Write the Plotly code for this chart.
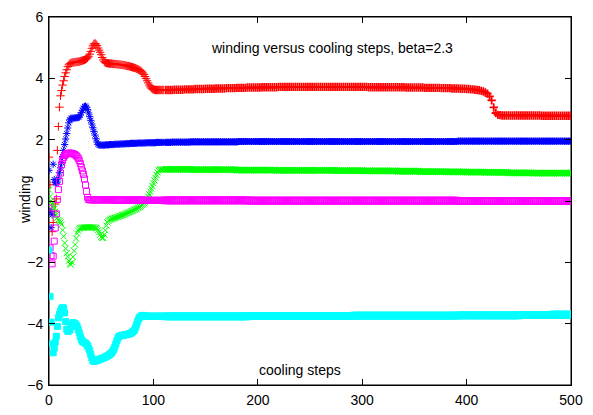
import plotly.graph_objects as go

# cooling step at which each value was read: every step up to 110, every other step after
steps = list(range(0, 111)) + list(range(112, 501, 2))

red_winding = [
    1.43, 0.53, -0.34, -1.0, -0.7, -0.35, -0.1, 0.07, 1.65, 2.43,
    3.06, 3.43, 3.6, 3.78, 3.92, 4.06, 4.18, 4.28, 4.38, 4.44,
    4.48, 4.5, 4.51, 4.52, 4.52, 4.53, 4.53, 4.54, 4.54, 4.55,
    4.56, 4.57, 4.58, 4.59, 4.6, 4.62, 4.64, 4.67, 4.72, 4.79,
    4.88, 4.98, 5.06, 5.12, 5.14, 5.12, 5.07, 4.99, 4.92, 4.85,
    4.77, 4.68, 4.6, 4.54, 4.51, 4.5, 4.49, 4.49, 4.48, 4.48,
    4.48, 4.47, 4.47, 4.47, 4.46, 4.46, 4.46, 4.45, 4.45, 4.44,
    4.44, 4.43, 4.43, 4.42, 4.41, 4.4, 4.4, 4.39, 4.38, 4.37,
    4.36, 4.35, 4.34, 4.33, 4.31, 4.3, 4.28, 4.26, 4.24, 4.21,
    4.17, 4.12, 4.06, 3.99, 3.92, 3.85, 3.78, 3.72, 3.68, 3.65,
    3.64, 3.63, 3.62, 3.62, 3.62, 3.62, 3.62, 3.62, 3.62, 3.62, 3.62,
    # step 112 onwards
    3.62, 3.62, 3.62, 3.62, 3.63, 3.63, 3.63, 3.63, 3.63, 3.64,
    3.64, 3.64, 3.64, 3.64, 3.65, 3.65, 3.65, 3.65, 3.65, 3.66,
    3.66, 3.66, 3.66, 3.66, 3.67, 3.67, 3.67, 3.67, 3.67, 3.68,
    3.68, 3.68, 3.68, 3.68, 3.69, 3.69, 3.69, 3.69, 3.69, 3.7,
    3.7, 3.7, 3.7, 3.7, 3.7, 3.7, 3.71, 3.71, 3.71, 3.71,
    3.71, 3.71, 3.71, 3.71, 3.72, 3.72, 3.72, 3.72, 3.72, 3.72,
    3.72, 3.72, 3.72, 3.72, 3.72, 3.72, 3.72, 3.72, 3.72, 3.72,
    3.72, 3.72, 3.72, 3.72, 3.72, 3.72, 3.72, 3.72, 3.72, 3.72,
    3.72, 3.72, 3.72, 3.72, 3.72, 3.72, 3.72, 3.72, 3.72, 3.72,
    3.72, 3.72, 3.72, 3.72, 3.72, 3.72, 3.72, 3.71, 3.71, 3.71,
    3.71, 3.71, 3.71, 3.71, 3.71, 3.71, 3.71, 3.71, 3.71, 3.71,
    3.71, 3.71, 3.71, 3.71, 3.71, 3.7, 3.7, 3.7, 3.7, 3.7,
    3.7, 3.7, 3.7, 3.7, 3.69, 3.69, 3.69, 3.69, 3.69, 3.69,
    3.69, 3.69, 3.68, 3.68, 3.68, 3.68, 3.68, 3.67, 3.67, 3.67,
    3.67, 3.66, 3.66, 3.66, 3.65, 3.65, 3.64, 3.64, 3.63, 3.62,
    3.61, 3.59, 3.57, 3.54, 3.5, 3.41, 3.28, 3.05, 2.87, 2.81,
    2.8, 2.79, 2.79, 2.79, 2.79, 2.79, 2.79, 2.79, 2.79, 2.79,
    2.79, 2.79, 2.79, 2.79, 2.79, 2.79, 2.79, 2.79, 2.79, 2.79,
    2.78, 2.78, 2.78, 2.78, 2.78, 2.78, 2.78, 2.78, 2.78, 2.78,
    2.78, 2.78, 2.78, 2.78, 2.78,
]

green_winding = [
    0.37, 0.15, 0.0, -0.1, -0.18, -0.25, -0.35, -0.45, -0.55, -0.62,
    -0.66, -0.7, -0.77, -0.95, -1.15, -1.37, -1.55, -1.7, -1.81, -1.95,
    -2.05, -2.08, -2.0, -1.82, -1.62, -1.42, -1.22, -1.06, -0.97, -0.91,
    -0.88, -0.87, -0.87, -0.87, -0.86, -0.86, -0.86, -0.86, -0.86, -0.86,
    -0.86, -0.86, -0.86, -0.86, -0.87, -0.88, -0.9, -0.95, -1.02, -1.1,
    -1.17, -1.21, -1.2, -1.1, -0.95, -0.8, -0.7, -0.65, -0.62, -0.6,
    -0.58, -0.57, -0.56, -0.55, -0.54, -0.53, -0.52, -0.5, -0.49, -0.48,
    -0.46, -0.45, -0.44, -0.42, -0.41, -0.39, -0.38, -0.36, -0.35, -0.33,
    -0.32, -0.3, -0.28, -0.27, -0.25, -0.23, -0.21, -0.19, -0.16, -0.13,
    -0.1, -0.07, -0.04, 0.0, 0.06, 0.14, 0.22, 0.31, 0.4, 0.49,
    0.58, 0.67, 0.76, 0.85, 0.93, 0.99, 1.02, 1.03, 1.03, 1.03, 1.03,
    # step 112 onwards
    1.03, 1.03, 1.03, 1.03, 1.03, 1.03, 1.03, 1.03, 1.03, 1.03,
    1.03, 1.03, 1.03, 1.02, 1.02, 1.02, 1.02, 1.02, 1.02, 1.02,
    1.02, 1.02, 1.02, 1.02, 1.02, 1.02, 1.02, 1.02, 1.02, 1.02,
    1.02, 1.02, 1.02, 1.02, 1.01, 1.01, 1.01, 1.01, 1.01, 1.01,
    1.01, 1.01, 1.01, 1.01, 1.01, 1.01, 1.01, 1.01, 1.01, 1.01,
    1.01, 1.01, 1.01, 1.0, 1.0, 1.0, 1.0, 1.0, 1.0, 1.0,
    1.0, 1.0, 1.0, 1.0, 1.0, 1.0, 1.0, 1.0, 1.0, 1.0,
    1.0, 1.0, 1.0, 1.0, 1.0, 1.0, 1.0, 1.0, 1.0, 1.0,
    1.0, 1.0, 0.99, 0.99, 0.99, 0.99, 0.99, 0.99, 0.99, 0.99,
    0.99, 0.99, 0.99, 0.99, 0.99, 0.98, 0.98, 0.98, 0.98, 0.98,
    0.98, 0.98, 0.98, 0.98, 0.98, 0.98, 0.98, 0.98, 0.98, 0.98,
    0.98, 0.97, 0.97, 0.97, 0.97, 0.97, 0.97, 0.97, 0.97, 0.97,
    0.97, 0.97, 0.96, 0.96, 0.96, 0.96, 0.96, 0.96, 0.96, 0.96,
    0.96, 0.96, 0.96, 0.96, 0.96, 0.95, 0.95, 0.95, 0.95, 0.95,
    0.95, 0.95, 0.95, 0.95, 0.94, 0.94, 0.94, 0.94, 0.94, 0.94,
    0.94, 0.94, 0.94, 0.93, 0.93, 0.93, 0.93, 0.93, 0.93, 0.93,
    0.93, 0.93, 0.93, 0.93, 0.92, 0.92, 0.92, 0.92, 0.92, 0.92,
    0.92, 0.92, 0.92, 0.92, 0.92, 0.92, 0.91, 0.91, 0.91, 0.91,
    0.91, 0.91, 0.91, 0.91, 0.91, 0.91, 0.91, 0.91, 0.91, 0.91,
    0.91, 0.91, 0.91, 0.91, 0.91,
]

blue_winding = [
    1.0, -0.34, -0.87, -0.45, 1.2, 0.7, 0.6, 0.58, 0.62, 0.75,
    0.92, 1.08, 1.25, 1.45, 1.65, 1.84, 2.02, 2.2, 2.38, 2.55,
    2.65, 2.7, 2.7, 2.7, 2.7, 2.71, 2.71, 2.72, 2.72, 2.74,
    2.8, 2.88, 2.96, 3.03, 3.08, 3.1, 3.06, 2.98, 2.87, 2.75,
    2.63, 2.51, 2.39, 2.27, 2.15, 2.03, 1.92, 1.85, 1.82, 1.82,
    1.82, 1.82, 1.82, 1.82, 1.83, 1.83, 1.83, 1.83, 1.84, 1.84,
    1.84, 1.84, 1.84, 1.85, 1.85, 1.85, 1.85, 1.85, 1.86, 1.86,
    1.86, 1.86, 1.86, 1.87, 1.87, 1.87, 1.87, 1.87, 1.88, 1.88,
    1.88, 1.88, 1.88, 1.88, 1.88, 1.89, 1.89, 1.89, 1.89, 1.89,
    1.89, 1.89, 1.89, 1.9, 1.9, 1.9, 1.9, 1.9, 1.9, 1.9,
    1.9, 1.9, 1.9, 1.91, 1.91, 1.91, 1.91, 1.91, 1.91, 1.91, 1.91,
    # step 112 onwards
    1.91, 1.91, 1.91, 1.92, 1.92, 1.92, 1.92, 1.92, 1.92, 1.92,
    1.92, 1.92, 1.93, 1.93, 1.93, 1.93, 1.93, 1.93, 1.93, 1.93,
    1.93, 1.93, 1.93, 1.93, 1.93, 1.93, 1.93, 1.93, 1.93, 1.93,
    1.93, 1.93, 1.93, 1.93, 1.93, 1.94, 1.94, 1.94, 1.94, 1.94,
    1.94, 1.94, 1.94, 1.94, 1.94, 1.94, 1.94, 1.94, 1.94, 1.94,
    1.94, 1.94, 1.94, 1.94, 1.94, 1.94, 1.94, 1.94, 1.94, 1.94,
    1.94, 1.94, 1.94, 1.94, 1.94, 1.94, 1.94, 1.94, 1.94, 1.94,
    1.94, 1.94, 1.94, 1.94, 1.94, 1.94, 1.94, 1.94, 1.94, 1.94,
    1.94, 1.94, 1.94, 1.94, 1.94, 1.94, 1.94, 1.94, 1.94, 1.94,
    1.94, 1.94, 1.94, 1.94, 1.94, 1.94, 1.94, 1.94, 1.94, 1.94,
    1.94, 1.94, 1.94, 1.94, 1.94, 1.94, 1.94, 1.94, 1.94, 1.94,
    1.94, 1.94, 1.94, 1.94, 1.94, 1.94, 1.94, 1.94, 1.94, 1.94,
    1.94, 1.94, 1.94, 1.94, 1.94, 1.94, 1.94, 1.94, 1.94, 1.94,
    1.94, 1.94, 1.94, 1.94, 1.94, 1.94, 1.94, 1.94, 1.94, 1.94,
    1.95, 1.95, 1.95, 1.95, 1.95, 1.95, 1.95, 1.95, 1.95, 1.95,
    1.95, 1.95, 1.95, 1.95, 1.95, 1.95, 1.95, 1.95, 1.95, 1.95,
    1.95, 1.95, 1.95, 1.95, 1.95, 1.95, 1.95, 1.95, 1.95, 1.95,
    1.95, 1.95, 1.95, 1.95, 1.95, 1.95, 1.95, 1.95, 1.95, 1.95,
    1.95, 1.95, 1.95, 1.95, 1.95, 1.95, 1.95, 1.95, 1.95, 1.95,
    1.95, 1.95, 1.95, 1.95, 1.95,
]

magenta_winding = [
    -0.23, -1.53, -1.78, -2.05, -1.8, -1.31, -0.88, -0.42, 0.05, 0.37,
    0.64, 0.91, 1.18, 1.33, 1.42, 1.48, 1.52, 1.54, 1.55, 1.56,
    1.56, 1.56, 1.55, 1.54, 1.53, 1.51, 1.48, 1.44, 1.39, 1.32,
    1.22, 1.1, 0.98, 0.87, 0.72, 0.52, 0.31, 0.12, 0.05, 0.04,
    0.04, 0.04, 0.04, 0.04, 0.04, 0.04, 0.04, 0.04, 0.04, 0.04,
    0.04, 0.04, 0.04, 0.04, 0.04, 0.04, 0.04, 0.04, 0.04, 0.04,
    0.04, 0.03, 0.03, 0.03, 0.03, 0.03, 0.03, 0.03, 0.03, 0.03,
    0.03, 0.03, 0.03, 0.03, 0.03, 0.03, 0.03, 0.03, 0.03, 0.03,
    0.03, 0.03, 0.03, 0.03, 0.03, 0.03, 0.03, 0.03, 0.03, 0.03,
    0.03, 0.02, 0.02, 0.02, 0.02, 0.02, 0.02, 0.02, 0.02, 0.02,
    0.02, 0.02, 0.02, 0.02, 0.02, 0.02, 0.02, 0.02, 0.02, 0.02, 0.02,
    # step 112 onwards
    0.02, 0.02, 0.02, 0.02, 0.02, 0.02, 0.02, 0.02, 0.02, 0.02,
    0.02, 0.02, 0.02, 0.02, 0.02, 0.02, 0.02, 0.02, 0.02, 0.02,
    0.02, 0.02, 0.02, 0.02, 0.02, 0.02, 0.02, 0.02, 0.02, 0.02,
    0.02, 0.02, 0.02, 0.02, 0.02, 0.02, 0.02, 0.02, 0.02, 0.02,
    0.01, 0.01, 0.01, 0.01, 0.01, 0.01, 0.01, 0.01, 0.01, 0.01,
    0.01, 0.01, 0.01, 0.01, 0.01, 0.01, 0.01, 0.01, 0.01, 0.01,
    0.01, 0.01, 0.01, 0.01, 0.01, 0.01, 0.01, 0.01, 0.01, 0.01,
    0.01, 0.01, 0.01, 0.01, 0.01, 0.01, 0.01, 0.01, 0.01, 0.01,
    0.01, 0.01, 0.01, 0.01, 0.01, 0.01, 0.01, 0.01, 0.01, 0.01,
    0.01, 0.01, 0.01, 0.01, 0.01, 0.01, 0.01, 0.01, 0.01, 0.01,
    0.01, 0.01, 0.01, 0.01, 0.01, 0.01, 0.01, 0.01, 0.01, 0.01,
    0.01, 0.01, 0.01, 0.01, 0.01, 0.01, 0.01, 0.01, 0.01, 0.01,
    0.01, 0.01, 0.01, 0.01, 0.01, 0.01, 0.01, 0.01, 0.01, 0.01,
    0.01, 0.01, 0.01, 0.01, 0.01, 0.01, 0.01, 0.01, 0.01, 0.01,
    0.0, 0.0, 0.0, 0.0, 0.0, 0.0, 0.0, 0.0, 0.0, 0.0,
    0.0, 0.0, 0.0, 0.0, 0.0, 0.0, 0.0, 0.0, 0.0, 0.0,
    0.0, 0.0, 0.0, 0.0, 0.0, 0.0, 0.0, 0.0, 0.0, 0.0,
    0.0, 0.0, 0.0, 0.0, 0.0, 0.0, 0.0, 0.0, 0.0, 0.0,
    0.0, 0.0, 0.0, 0.0, 0.0, 0.0, 0.0, 0.0, 0.0, 0.0,
    0.0, 0.0, 0.0, 0.0, 0.0,
]

cyan_winding = [
    -1.6, -3.11, -3.95, -4.66, -4.95, -4.8, -4.6, -4.41, -4.09, -3.81,
    -3.7, -3.6, -3.52, -3.48, -3.49, -3.65, -3.93, -4.18, -4.25, -4.24,
    -4.2, -4.1, -4.01, -3.97, -3.98, -4.0, -4.04, -4.1, -4.2, -4.3,
    -4.42, -4.52, -4.58, -4.6, -4.62, -4.64, -4.67, -4.72, -4.8, -4.88,
    -5.0, -5.12, -5.2, -5.23, -5.22, -5.21, -5.2, -5.19, -5.17, -5.16,
    -5.14, -5.13, -5.12, -5.1, -5.09, -5.07, -5.05, -5.03, -5.01, -4.98,
    -4.95, -4.9, -4.84, -4.76, -4.66, -4.56, -4.47, -4.42, -4.4, -4.39,
    -4.38, -4.38, -4.37, -4.36, -4.36, -4.35, -4.34, -4.33, -4.32, -4.3,
    -4.27, -4.24, -4.2, -4.12, -4.02, -3.92, -3.84, -3.79, -3.76, -3.74,
    -3.73, -3.74, -3.75, -3.76, -3.76, -3.76, -3.76, -3.76, -3.76, -3.76,
    -3.76, -3.76, -3.76, -3.76, -3.76, -3.76, -3.76, -3.76, -3.76, -3.76, -3.76,
    # step 112 onwards
    -3.76, -3.76, -3.76, -3.76, -3.76, -3.76, -3.76, -3.76, -3.76, -3.76,
    -3.76, -3.76, -3.76, -3.76, -3.76, -3.76, -3.76, -3.76, -3.76, -3.76,
    -3.76, -3.76, -3.76, -3.76, -3.76, -3.76, -3.76, -3.76, -3.76, -3.76,
    -3.76, -3.76, -3.76, -3.76, -3.76, -3.76, -3.76, -3.76, -3.76, -3.76,
    -3.75, -3.75, -3.75, -3.75, -3.75, -3.75, -3.75, -3.75, -3.75, -3.75,
    -3.75, -3.75, -3.75, -3.75, -3.75, -3.75, -3.75, -3.75, -3.75, -3.75,
    -3.75, -3.75, -3.75, -3.75, -3.75, -3.75, -3.75, -3.75, -3.75, -3.75,
    -3.75, -3.75, -3.75, -3.75, -3.75, -3.75, -3.75, -3.75, -3.75, -3.75,
    -3.75, -3.75, -3.75, -3.75, -3.75, -3.75, -3.75, -3.75, -3.75, -3.75,
    -3.74, -3.74, -3.74, -3.74, -3.74, -3.74, -3.74, -3.74, -3.74, -3.74,
    -3.74, -3.74, -3.74, -3.74, -3.74, -3.74, -3.74, -3.74, -3.74, -3.74,
    -3.74, -3.74, -3.74, -3.74, -3.74, -3.74, -3.74, -3.74, -3.74, -3.74,
    -3.74, -3.74, -3.74, -3.74, -3.74, -3.74, -3.74, -3.74, -3.74, -3.74,
    -3.74, -3.74, -3.74, -3.74, -3.74, -3.74, -3.74, -3.74, -3.74, -3.74,
    -3.73, -3.73, -3.73, -3.73, -3.73, -3.73, -3.73, -3.73, -3.73, -3.73,
    -3.73, -3.73, -3.73, -3.73, -3.73, -3.73, -3.73, -3.73, -3.73, -3.73,
    -3.73, -3.73, -3.73, -3.73, -3.73, -3.73, -3.73, -3.73, -3.73, -3.73,
    -3.72, -3.72, -3.72, -3.72, -3.72, -3.72, -3.72, -3.72, -3.72, -3.72,
    -3.72, -3.72, -3.72, -3.72, -3.72, -3.71, -3.71, -3.71, -3.71, -3.71,
    -3.71, -3.71, -3.71, -3.71, -3.71,
]

x_ticks = [0, 100, 200, 300, 400, 500]
y_ticks = [-6, -4, -2, 0, 2, 4, 6]

FONT = "Liberation Sans, Arial, sans-serif"

# gnuplot default point types and colours, in plot order
series = [
    (red_winding, "#ff0000", "cross-thin", 6),
    (green_winding, "#00ff00", "x-thin", 6),
    (blue_winding, "#0000ff", "asterisk", 6),
    (magenta_winding, "#ff00ff", "square-open", 6),
    (cyan_winding, "#00ffff", "square", 6),
]

# later samples are twice as far apart, so draw their strokes a bit heavier
stroke = [1 if s <= 110 else 1.8 for s in steps]

fig = go.Figure()
for values, color, symbol, size in series:
    assert len(values) == len(steps)
    fig.add_trace(go.Scatter(
        x=steps,
        y=values,
        mode="markers",
        marker=dict(symbol=symbol, size=size, color=color,
                    line=dict(color=color, width=stroke)),
        showlegend=False,
    ))

axis_style = dict(
    showline=True,
    linecolor="black",
    linewidth=1,
    mirror="ticks",
    ticks="inside",
    ticklen=6,
    tickcolor="black",
    showgrid=False,
    zeroline=False,
    automargin=False,
    tickfont=dict(family=FONT, size=14, color="black"),
)

fig.update_xaxes(range=[0, 500], tickvals=x_ticks, ticklabelstandoff=2, **axis_style)
fig.update_yaxes(range=[-6, 6], tickvals=y_ticks, ticklabelstandoff=2, **axis_style)

# plot frame
fig.add_shape(type="rect", xref="paper", yref="paper", x0=0, y0=0, x1=1, y1=1,
              line=dict(color="black", width=1), layer="below")

text_font = dict(family=FONT, size=14, color="black")
fig.add_annotation(text="winding versus cooling steps, beta=2.3", xref="paper", yref="paper",
                   x=0.542, y=0.916, xanchor="center", yanchor="middle",
                   showarrow=False, font=text_font)
fig.add_annotation(text="cooling steps", xref="paper", yref="paper",
                   x=0.481, y=0.041, xanchor="center", yanchor="middle",
                   showarrow=False, font=text_font)
fig.add_annotation(text="winding", xref="paper", yref="paper", textangle=-90,
                   x=-0.046, y=0.503, xanchor="center", yanchor="middle",
                   showarrow=False, font=text_font)

# the page body has an 8px margin, so the figure is 16px smaller than the window
fig.update_layout(
    width=577,
    height=399,
    margin=dict(l=41, r=14, t=9, b=22),
    paper_bgcolor="white",
    plot_bgcolor="white",
)

fig.write_html("out.html")
